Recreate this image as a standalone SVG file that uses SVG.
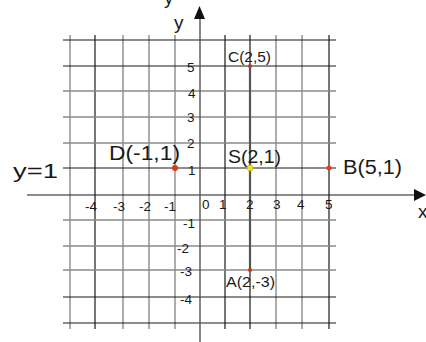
<svg xmlns="http://www.w3.org/2000/svg" width="426" height="342" viewBox="0 0 426 342">
<style>
.dk{stroke:#1a1a1a;stroke-width:1.2;fill:none}
.gr{stroke:#8a8a8a;stroke-width:1.4;fill:none}
.ax{stroke:#555;stroke-width:1.4;fill:none}
text{font-family:"Liberation Sans",Arial,sans-serif;fill:#1a1a1a}
.n{font-size:13.5px}
.lb{font-size:20px}
</style>
<rect width="426" height="342" fill="#fff"/>
<g id="grid">
<line class="gr" x1="70" y1="35" x2="70" y2="329"/>
<line class="dk" x1="95" y1="35" x2="95" y2="329"/>
<line class="gr" x1="123" y1="35" x2="123" y2="329"/>
<line class="gr" x1="149" y1="35" x2="149" y2="329"/>
<line class="gr" x1="175" y1="35" x2="175" y2="329"/>
<line class="dk" x1="225" y1="35" x2="225" y2="329"/>
<line class="dk" x1="250" y1="35" x2="250" y2="329"/>
<line class="gr" x1="276" y1="35" x2="276" y2="329"/>
<line class="gr" x1="302" y1="35" x2="302" y2="329"/>
<line class="dk" x1="329" y1="35" x2="329" y2="329"/>
<line class="dk" x1="63" y1="40" x2="336" y2="40"/>
<line class="dk" x1="63" y1="66" x2="336" y2="66"/>
<line class="gr" x1="63" y1="91" x2="336" y2="91"/>
<line class="gr" x1="63" y1="117" x2="336" y2="117"/>
<line class="gr" x1="63" y1="143" x2="336" y2="143"/>
<line class="dk" x1="63" y1="168" x2="336" y2="168"/>
<line class="gr" x1="63" y1="220" x2="336" y2="220"/>
<line class="gr" x1="63" y1="246" x2="336" y2="246"/>
<line class="gr" x1="63" y1="270" x2="336" y2="270"/>
<line class="dk" x1="63" y1="297" x2="336" y2="297"/>
<line class="dk" x1="63" y1="323" x2="336" y2="323"/>
</g>
<g id="axes">
<line class="dk" x1="27" y1="195" x2="414" y2="195"/>
<polygon points="426,195 414,189 414,201" fill="#111"/>
<line class="ax" x1="200" y1="16" x2="200" y2="342"/>
<polygon points="199.5,6 194,19 205,19" fill="#111"/>
<text x="174" y="29" style="font-size:19px">y</text>
<text x="164" y="4" style="font-size:19px">y</text>
<text x="418" y="218" style="font-size:19px">x</text>
</g>
<g id="connectors">
<line x1="250" y1="66" x2="250" y2="270" stroke="#555" stroke-width="2.2"/>
</g>
<g id="ylabels">
<text class="n" x="187" y="72">5</text>
<text class="n" x="188" y="98">4</text>
<text class="n" x="187" y="122">3</text>
<text class="n" x="187" y="148">2</text>
<text class="n" x="188" y="175">1</text>
<text class="n" x="183" y="228">-1</text>
<text class="n" x="177" y="253">-2</text>
<text class="n" x="180" y="276">-3</text>
<text class="n" x="180" y="304">-4</text>
</g>
<g id="xlabels">
<text class="n" x="85" y="211">-4</text>
<text class="n" x="113" y="211">-3</text>
<text class="n" x="139" y="211">-2</text>
<text class="n" x="164" y="211">-1</text>
<text class="n" x="202" y="209">0</text>
<text class="n" x="219" y="209">1</text>
<text class="n" x="246" y="209">2</text>
<text class="n" x="273" y="209">3</text>
<text class="n" x="297" y="209">4</text>
<text class="n" x="325" y="209">5</text>
</g>
<g id="pointD">
<circle cx="175" cy="168" r="3" fill="#e03a10"/>
<text class="lb" x="109" y="160" textLength="71" lengthAdjust="spacingAndGlyphs">D(-1,1)</text>
</g>
<g id="pointS">
<circle cx="250" cy="168" r="3" fill="#f4e614" stroke="#b0a000" stroke-width="0.5"/>
<text x="228" y="163" style="font-size:18px" textLength="53" lengthAdjust="spacingAndGlyphs">S(2,1)</text>
</g>
<g id="pointB">
<circle cx="329" cy="168" r="2.5" fill="#e04010"/>
<text x="343" y="174" style="font-size:20px" textLength="59" lengthAdjust="spacingAndGlyphs">B(5,1)</text>
</g>
<g id="pointC">
<circle cx="250" cy="66" r="2" fill="#b04020"/>
<text x="228" y="62" style="font-size:14px" textLength="43" lengthAdjust="spacingAndGlyphs">C(2,5)</text>
</g>
<g id="pointA">
<circle cx="250" cy="270" r="2" fill="#d03010"/>
<text x="226" y="287" style="font-size:14px" textLength="49" lengthAdjust="spacingAndGlyphs">A(2,-3)</text>
</g>
<g id="lineLabel">
<text x="13" y="178" style="font-size:21px" textLength="45" lengthAdjust="spacingAndGlyphs">y=1</text>
</g>
</svg>
